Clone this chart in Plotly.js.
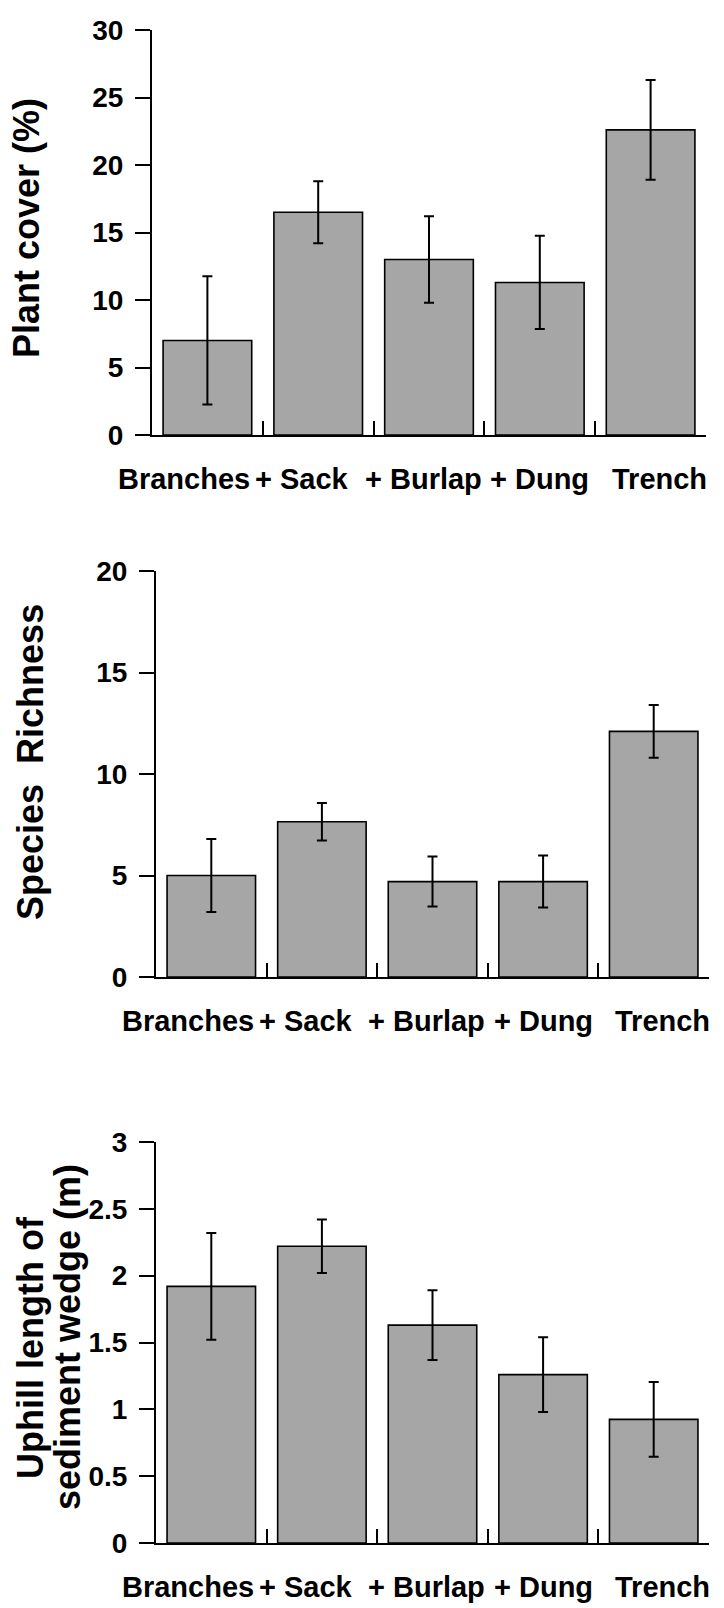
<!DOCTYPE html>
<html>
<head>
<meta charset="utf-8">
<script src="https://cdn.plot.ly/plotly-3.0.1.min.js"></script>
<style>
  html, body { margin: 0; padding: 0; background: #ffffff; }
  #chart { width: 724px; height: 1608px; }
</style>
</head>
<body>
<div id="chart"></div>
<script>
// ---- Data ----
const treatments = ['Branches', '+ Sack', '+ Burlap', '+ Dung', 'Trench'];

const plantCover = [7.0, 16.5, 13.0, 11.3, 22.6];
const plantCoverErr = [4.75, 2.3, 3.2, 3.45, 3.7];

const speciesRichness = [5.0, 7.65, 4.7, 4.7, 12.1];
const speciesRichnessErr = [1.8, 0.92, 1.23, 1.28, 1.3];

const wedgeLength = [1.92, 2.22, 1.63, 1.26, 0.925];
const wedgeLengthErr = [0.4, 0.2, 0.26, 0.28, 0.28];

const titles = {
  cover: 'Plant cover (%)',
  richness: 'Species\u00a0\u00a0Richness',
  wedge1: 'Uphill length of',
  wedge2: 'sediment wedge (m)'
};

// ---- Layout constants (page pixels) ----
const W = 724, H = 1608;
const px = v => v / W;
const py = v => 1 - v / H;

// horizontal nudge of each category label (the original labels are spread slightly wider)
const labelNudge = [-23, -16, -6, 0, 9];

const FONT = 'Liberation Sans, Arial, Helvetica, sans-serif';
const barColor = '#a6a6a6';

function barTrace(y, err, xa, ya) {
  return {
    type: 'bar',
    x: treatments,
    y: y,
    xaxis: xa,
    yaxis: ya,
    marker: { color: barColor, line: { color: '#000', width: 1.6 } },
    error_y: { type: 'data', array: err, visible: true, color: '#000', thickness: 2, width: 5 },
    hoverinfo: 'x+y'
  };
}

const data = [
  barTrace(plantCover, plantCoverErr, 'x', 'y'),
  barTrace(speciesRichness, speciesRichnessErr, 'x2', 'y2'),
  barTrace(wedgeLength, wedgeLengthErr, 'x3', 'y3')
];

function xAxis(domain, anchor) {
  return {
    domain: domain, anchor: anchor, type: 'category',
    categoryorder: 'array', categoryarray: treatments,
    range: [-0.5, treatments.length - 0.5], autorange: false,
    showline: true, linecolor: '#000', linewidth: 2,
    ticks: 'inside', tickson: 'boundaries', ticklen: 14, tickwidth: 2, tickcolor: '#000',
    showticklabels: false,
    showgrid: false, zeroline: false, fixedrange: true
  };
}
function yAxis(domain, anchor, range, dtick) {
  return {
    domain: domain, anchor: anchor, range: range, autorange: false, dtick: dtick, tick0: 0,
    showline: true, linecolor: '#000', linewidth: 2,
    ticks: 'outside', ticklen: 15, tickwidth: 2, tickcolor: '#000',
    tickfont: { family: FONT, size: 28, color: '#000', weight: 'bold' },
    ticklabelstandoff: 6,
    showgrid: false, zeroline: false, fixedrange: true
  };
}

const titleFont = { family: FONT, size: 36, color: '#000', weight: 'bold' };
function vTitle(text, x, y) {
  return {
    text: text, xref: 'paper', yref: 'paper', x: px(x), y: py(y),
    xanchor: 'center', yanchor: 'middle', textangle: -90,
    showarrow: false, font: titleFont
  };
}

const labelFont = { family: FONT, size: 29, color: '#000', weight: 'bold' };
function categoryLabels(xref, axisY) {
  return treatments.map((t, i) => ({
    text: t, x: i, xref: xref, yref: 'paper', y: py(axisY + 44),
    xanchor: 'center', yanchor: 'middle', xshift: labelNudge[i],
    showarrow: false, font: labelFont
  }));
}

const layout = {
  width: W, height: H,
  margin: { l: 0, r: 0, t: 0, b: 0 },
  paper_bgcolor: '#fff', plot_bgcolor: '#fff',
  showlegend: false,
  bargap: 0.2,
  xaxis: xAxis([px(152), px(706)], 'y'),
  yaxis: yAxis([py(435), py(30)], 'x', [0, 30], 5),
  xaxis2: xAxis([px(156), px(709)], 'y2'),
  yaxis2: yAxis([py(977), py(571)], 'x2', [0, 20], 5),
  xaxis3: xAxis([px(156), px(709)], 'y3'),
  yaxis3: yAxis([py(1543), py(1142)], 'x3', [0, 3], 0.5),
  annotations: [
    vTitle(titles.cover, 27, 228),
    vTitle(titles.richness, 30, 762),
    vTitle(titles.wedge1, 30, 1348),
    vTitle(titles.wedge2, 67, 1337)
  ].concat(categoryLabels('x', 435), categoryLabels('x2', 977), categoryLabels('x3', 1543))
};

Plotly.newPlot('chart', data, layout, { displayModeBar: false, staticPlot: true });
</script>
</body>
</html>
